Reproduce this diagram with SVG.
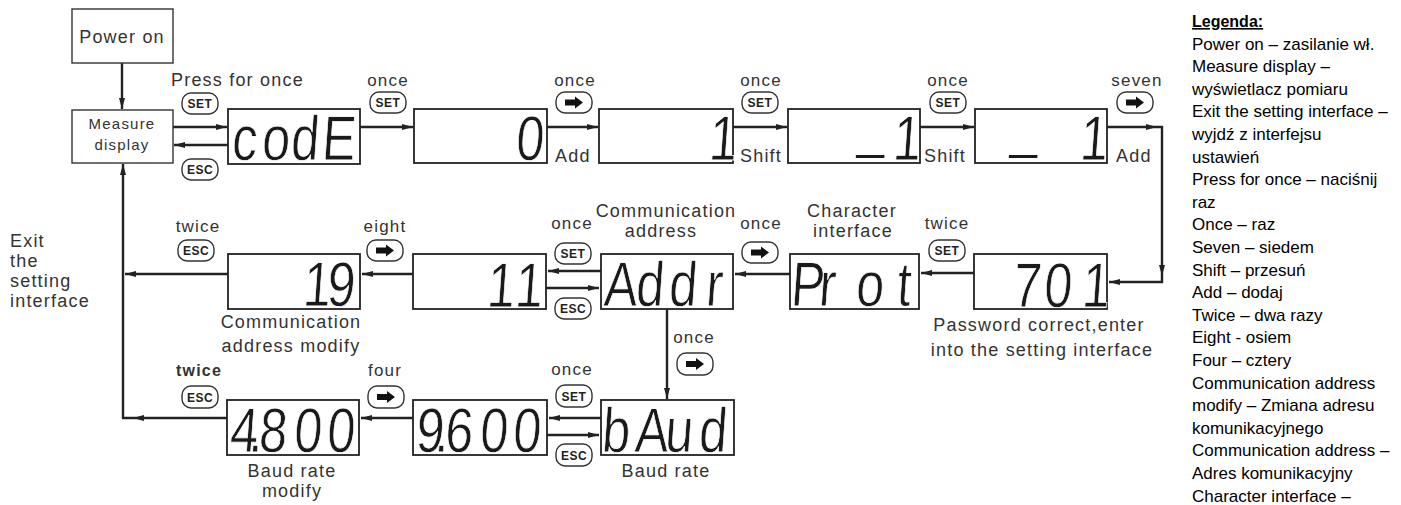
<svg xmlns="http://www.w3.org/2000/svg" xmlns:xlink="http://www.w3.org/1999/xlink" width="1401" height="505" viewBox="0 0 1401 505">
<style>
.lbl{font-family:"Liberation Sans",Arial,sans-serif;font-size:18px;fill:#333;letter-spacing:1.2px}
.sm{font-family:"Liberation Sans",Arial,sans-serif;font-size:17px;fill:#333;letter-spacing:1.2px}
.mid{text-anchor:middle}
.box{fill:#fff;stroke:#333;stroke-width:1.4}
.disp{fill:#fff;stroke:#222;stroke-width:1.8}
.lcd{font-family:"Liberation Sans",Arial,sans-serif;font-size:63px;fill:#1a1a1a;stroke:#fff;stroke-width:0.8}
.btn{fill:#fff;stroke:#333;stroke-width:1.4}
.bt{font-family:"Liberation Sans",Arial,sans-serif;font-size:12px;font-weight:bold;fill:#222;text-anchor:middle;letter-spacing:0.5px}
.ln{fill:none;stroke:#222;stroke-width:2.4}
.lg{font-family:"Liberation Sans",Arial,sans-serif;font-size:17px;fill:#000}
</style>
<defs>
<marker id="ah" markerWidth="12" markerHeight="8" refX="11" refY="4" orient="auto" markerUnits="userSpaceOnUse"><path d="M0,1 L11,4 L0,7 Z" fill="#222"/></marker>
<path id="arr" d="M-9,-3H1V-6L9,0L1,6V3H-9Z" fill="#111"/>
<path id="head" d="M0,0 L-11,-3 L-11,3 Z" fill="#222"/>
</defs>

<g id="connectors">
<path class="ln" d="M122,63 V109" marker-end="url(#ah)"/>
<path class="ln" d="M173,127 H227" marker-end="url(#ah)"/>
<path class="ln" d="M228,145 H174" marker-end="url(#ah)"/>
<path class="ln" d="M360,127 H413" marker-end="url(#ah)"/>
<path class="ln" d="M547,127 H598" marker-end="url(#ah)"/>
<path class="ln" d="M733,127 H787" marker-end="url(#ah)"/>
<path class="ln" d="M920,127 H974" marker-end="url(#ah)"/>
<path class="ln" d="M1107,127 H1162 V282 H1109" marker-end="url(#ah)"/>
<use href="#head" transform="translate(1157,127)"/>
<use href="#head" transform="translate(1162,276) rotate(90)"/>
<path class="ln" d="M974,273 H921" marker-end="url(#ah)"/>
<path class="ln" d="M790,274 H735" marker-end="url(#ah)"/>
<path class="ln" d="M601,271 H548" marker-end="url(#ah)"/>
<path class="ln" d="M546,288 H599" marker-end="url(#ah)"/>
<path class="ln" d="M413,274 H362" marker-end="url(#ah)"/>
<path class="ln" d="M228,274 H125" marker-end="url(#ah)"/>
<path class="ln" d="M667,309 V399" marker-end="url(#ah)"/>
<path class="ln" d="M601,418 H549" marker-end="url(#ah)"/>
<path class="ln" d="M547,435 H599" marker-end="url(#ah)"/>
<path class="ln" d="M413,418 H361" marker-end="url(#ah)"/>
<path class="ln" d="M227,418 H123 V164" marker-end="url(#ah)"/>
<use href="#head" transform="translate(133,418) rotate(180)"/>
</g>

<g id="power-on">
<rect class="box" x="72" y="9" width="101" height="54"/>
<text class="lbl mid" x="122" y="43">Power on</text>
</g>
<g id="measure-display">
<rect class="box" x="72" y="110" width="101" height="53"/>
<text class="lbl mid" x="122" y="129" style="font-size:15px">Measure</text>
<text class="lbl mid" x="122" y="150" style="font-size:15px">display</text>
</g>

<g id="disp-code">
<rect class="disp" x="228" y="109" width="132" height="55"/>
<text class="lcd" transform="translate(228,160) scale(0.8,1) skewX(-5)" x="3.75 41.25 77.5 116.25" y="0">codE</text>
</g>
<g id="disp-0">
<rect class="disp" x="414" y="109" width="133" height="54"/>
<text class="lcd" transform="translate(414,160) scale(0.8,1) skewX(-5)" x="126.25" y="0">0</text>
</g>
<g id="disp-1">
<rect class="disp" x="599" y="109" width="134" height="54"/>
<text class="lcd" transform="translate(599,160) scale(0.8,1) skewX(-5)" x="136.25" y="0">1</text>
</g>
<g id="disp-shift1">
<rect class="disp" x="788" y="109" width="132" height="54"/>
<text class="lcd" transform="translate(788,160) scale(0.8,1) skewX(-5)" x="85 130" y="-14 0">_1</text>
</g>
<g id="disp-shift2">
<rect class="disp" x="975" y="109" width="132" height="54"/>
<text class="lcd" transform="translate(975,160) scale(0.8,1) skewX(-5)" x="42.5 130" y="-14 0">_1</text>
</g>
<g id="disp-701">
<rect class="disp" x="974" y="254" width="133" height="55"/>
<text class="lcd" transform="translate(974,307) scale(0.8,1) skewX(-5)" x="47.5 86.25 133.75" y="0">701</text>
</g>
<g id="disp-prot">
<rect class="disp" x="790" y="254" width="129" height="55"/>
<text class="lcd" transform="translate(790,306) scale(0.8,1) skewX(-5)" x="0 35 81.25 132.5" y="0">Prot</text>
</g>
<g id="disp-addr">
<rect class="disp" x="601" y="254" width="132" height="55"/>
<text class="lcd" transform="translate(601,306) scale(0.8,1) skewX(-5)" x="2.5 42.5 83.75 130" y="0">Addr</text>
</g>
<g id="disp-11">
<rect class="disp" x="413" y="254" width="133" height="55"/>
<text class="lcd" transform="translate(413,307) scale(0.8,1) skewX(-5)" x="91.25 126.25" y="0">11</text>
</g>
<g id="disp-19">
<rect class="disp" x="228" y="254" width="132" height="55"/>
<text class="lcd" transform="translate(228,306) scale(0.8,1) skewX(-5)" x="92.5 122.5" y="0">19</text>
</g>
<g id="disp-4800">
<rect class="disp" x="227" y="400" width="132" height="55"/>
<text class="lcd" transform="translate(227,452) scale(0.8,1) skewX(-5)" x="2.5 26.25 38.75 82.5 123.75" y="0">4.800</text>
</g>
<g id="disp-9600">
<rect class="disp" x="413" y="400" width="134" height="55"/>
<text class="lcd" transform="translate(413,452) scale(0.8,1) skewX(-5)" x="2.5 26.25 38.75 82.5 123.75" y="0">9.600</text>
</g>
<g id="disp-baud">
<rect class="disp" x="601" y="400" width="133" height="55"/>
<text class="lcd" transform="translate(601,452) scale(0.8,1) skewX(-5)" x="0 41.25 78.75 121.25" y="0">bAud</text>
</g>

<g id="buttons">
<rect class="btn" x="182" y="93" width="36" height="21" rx="9"/><text class="bt" x="200" y="108">SET</text>
<rect class="btn" x="182" y="159" width="36" height="21" rx="9"/><text class="bt" x="200" y="174">ESC</text>
<rect class="btn" x="370" y="92" width="36" height="21" rx="9"/><text class="bt" x="388" y="107">SET</text>
<rect class="btn" x="556" y="92" width="36" height="21" rx="9"/><use href="#arr" x="574" y="102.5"/>
<rect class="btn" x="742" y="92" width="36" height="21" rx="9"/><text class="bt" x="760" y="107">SET</text>
<rect class="btn" x="930" y="92" width="36" height="21" rx="9"/><text class="bt" x="948" y="107">SET</text>
<rect class="btn" x="1117" y="92" width="36" height="21" rx="9"/><use href="#arr" x="1135" y="102.5"/>
<rect class="btn" x="178" y="240" width="36" height="21" rx="9"/><text class="bt" x="196" y="255">ESC</text>
<rect class="btn" x="367" y="240" width="36" height="21" rx="9"/><use href="#arr" x="385" y="250.5"/>
<rect class="btn" x="555" y="243" width="36" height="21" rx="9"/><text class="bt" x="573" y="258">SET</text>
<rect class="btn" x="555" y="298" width="36" height="21" rx="9"/><text class="bt" x="573" y="313">ESC</text>
<rect class="btn" x="742" y="242" width="36" height="21" rx="9"/><use href="#arr" x="760" y="252.5"/>
<rect class="btn" x="929" y="240" width="36" height="21" rx="9"/><text class="bt" x="947" y="255">SET</text>
<rect class="btn" x="182" y="386" width="36" height="22" rx="9"/><text class="bt" x="200" y="401.5">ESC</text>
<rect class="btn" x="368" y="386" width="36" height="22" rx="9"/><use href="#arr" x="386" y="397"/>
<rect class="btn" x="556" y="385" width="36" height="22" rx="9"/><text class="bt" x="574" y="400.5">SET</text>
<rect class="btn" x="556" y="444" width="36" height="22" rx="9"/><text class="bt" x="574" y="459.5">ESC</text>
<rect class="btn" x="677" y="353" width="36" height="22" rx="9"/><use href="#arr" x="695" y="364"/>
</g>

<g id="labels">
<text class="lbl" x="171" y="86">Press for once</text>
<text class="sm mid" x="388" y="86">once</text>
<text class="sm mid" x="575" y="86">once</text>
<text class="sm mid" x="761" y="86">once</text>
<text class="sm mid" x="948" y="86">once</text>
<text class="sm mid" x="1137" y="86">seven</text>
<text class="lbl" x="555" y="162">Add</text>
<text class="lbl" x="740" y="162">Shift</text>
<text class="lbl" x="924" y="162">Shift</text>
<text class="lbl" x="1116" y="162">Add</text>
<text class="sm mid" x="198" y="232">twice</text>
<text class="sm mid" x="385" y="232">eight</text>
<text class="sm mid" x="572" y="229">once</text>
<text class="lbl mid" x="666" y="217">Communication</text>
<text class="lbl mid" x="661" y="237">address</text>
<text class="sm mid" x="761" y="229">once</text>
<text class="lbl mid" x="852" y="217">Character</text>
<text class="lbl mid" x="853" y="237">interface</text>
<text class="sm mid" x="947" y="229">twice</text>
<text class="lbl mid" x="1039" y="331">Password correct,enter</text>
<text class="lbl mid" x="1042" y="356">into the setting interface</text>
<text class="lbl mid" x="291" y="328">Communication</text>
<text class="lbl mid" x="291" y="352">address modify</text>
<text class="lbl" x="10" y="247">Exit</text>
<text class="lbl" x="10" y="267">the</text>
<text class="lbl" x="10" y="287">setting</text>
<text class="lbl" x="10" y="307">interface</text>
<text class="sm mid" x="199" y="376" style="font-weight:bold;font-size:16px">twice</text>
<text class="sm mid" x="385" y="376">four</text>
<text class="sm mid" x="572" y="375">once</text>
<text class="sm mid" x="694" y="343">once</text>
<text class="lbl mid" x="666" y="477">Baud rate</text>
<text class="lbl mid" x="292" y="477">Baud rate</text>
<text class="lbl mid" x="292" y="497">modify</text>
</g>

<g id="legend">
<text class="lg" x="1192" y="27" style="font-weight:bold;font-size:16px;text-decoration:underline">Legenda:</text>
<text class="lg" x="1192" y="49.6">Power on – zasilanie wł.</text>
<text class="lg" x="1192" y="72.2">Measure display –</text>
<text class="lg" x="1192" y="94.8">wyświetlacz pomiaru</text>
<text class="lg" x="1192" y="117.4">Exit the setting interface –</text>
<text class="lg" x="1192" y="140">wyjdź z interfejsu</text>
<text class="lg" x="1192" y="162.6">ustawień</text>
<text class="lg" x="1192" y="185.2">Press for once – naciśnij</text>
<text class="lg" x="1192" y="207.8">raz</text>
<text class="lg" x="1192" y="230.4">Once – raz</text>
<text class="lg" x="1192" y="253">Seven – siedem</text>
<text class="lg" x="1192" y="275.6">Shift – przesuń</text>
<text class="lg" x="1192" y="298.2">Add – dodaj</text>
<text class="lg" x="1192" y="320.8">Twice – dwa razy</text>
<text class="lg" x="1192" y="343.4">Eight - osiem</text>
<text class="lg" x="1192" y="366">Four – cztery</text>
<text class="lg" x="1192" y="388.6">Communication address</text>
<text class="lg" x="1192" y="411.2">modify – Zmiana adresu</text>
<text class="lg" x="1192" y="433.8">komunikacyjnego</text>
<text class="lg" x="1192" y="456.4">Communication address –</text>
<text class="lg" x="1192" y="479">Adres komunikacyjny</text>
<text class="lg" x="1192" y="501.6">Character interface –</text>
</g>
</svg>
